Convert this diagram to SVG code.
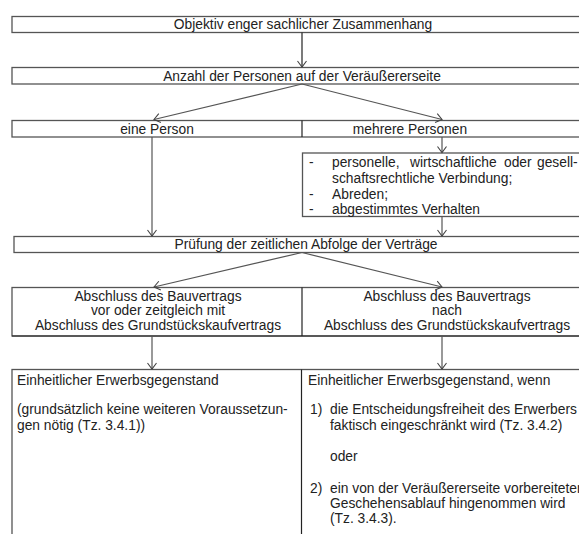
<svg xmlns="http://www.w3.org/2000/svg" width="579" height="534" viewBox="0 0 579 534">
<style>
  .box { fill: #fff; stroke: #555; stroke-width: 1.3; }
  .div { stroke: #222; stroke-width: 1.2; fill: none; }
  .t { font-family: "Liberation Sans", Arial, sans-serif; font-size: 13.8px; fill: #222; }
  .c { text-anchor: middle; }
  .con { stroke: #555; stroke-width: 1.2; fill: none; marker-end: url(#ah); }
</style>
<defs>
  <marker id="ah" viewBox="-8 -6 10 12" markerWidth="10" markerHeight="12" refX="0" refY="0" orient="auto" markerUnits="userSpaceOnUse">
    <path d="M-6,-4.5 L0,0 L-6,4.5" fill="none" stroke="#444" stroke-width="1.1"/>
  </marker>
</defs>
<rect width="579" height="534" fill="#fff"/>

<g id="n1">
  <rect class="box" x="12" y="16.5" width="600" height="16"/>
  <text class="t c" x="303" y="29">Objektiv enger sachlicher Zusammenhang</text>
</g>
<g id="n2">
  <rect class="box" x="12" y="67.5" width="600" height="16.5"/>
  <text class="t c" x="302" y="80.5">Anzahl der Personen auf der Veräußererseite</text>
</g>
<g id="n3">
  <rect class="box" x="12" y="120.5" width="600" height="16.5"/>
  <line class="div" x1="302" y1="120.5" x2="302" y2="137"/>
  <text class="t c" x="157" y="133.5">eine Person</text>
  <text class="t c" x="410" y="133.5">mehrere Personen</text>
</g>
<g id="n4">
  <rect class="box" x="302.5" y="153" width="300" height="63.5"/>
  <text class="t" x="309" y="167">-</text>
  <text class="t" y="167"><tspan x="332">personelle,</tspan><tspan x="410">wirtschaftliche</tspan><tspan x="504">oder</tspan><tspan x="537">gesell-</tspan></text>
  <text class="t" x="332" y="182.5">schaftsrechtliche Verbindung;</text>
  <text class="t" x="309" y="198.5">-</text>
  <text class="t" x="332" y="198.5">Abreden;</text>
  <text class="t" x="309" y="214">-</text>
  <text class="t" x="332" y="214">abgestimmtes Verhalten</text>
</g>
<g id="n5">
  <rect class="box" x="14" y="236.5" width="600" height="16"/>
  <text class="t c" x="306" y="249">Prüfung der zeitlichen Abfolge der Verträge</text>
</g>
<g id="n6">
  <rect class="box" x="12" y="287.5" width="600" height="48.5"/>
  <line class="div" x1="302" y1="287.5" x2="302" y2="336"/>
  <line class="div" x1="12" y1="336" x2="579" y2="336"/>
  <text class="t c" x="158" y="300.5">Abschluss des Bauvertrags</text>
  <text class="t c" x="158" y="315">vor oder zeitgleich mit</text>
  <text class="t c" x="158" y="329.5">Abschluss des Grundstückskaufvertrags</text>
  <text class="t c" x="447" y="300.5">Abschluss des Bauvertrags</text>
  <text class="t c" x="447" y="315">nach</text>
  <text class="t c" x="447" y="329.5">Abschluss des Grundstückskaufvertrags</text>
</g>
<g id="n7">
  <rect class="box" x="12" y="369.5" width="600" height="200"/>
  <line class="div" x1="301.5" y1="369.5" x2="301.5" y2="534"/>
  <text class="t" x="17" y="385">Einheitlicher Erwerbsgegenstand</text>
  <text class="t" x="17" y="414">(grundsätzlich keine weiteren Voraussetzun-</text>
  <text class="t" x="17" y="429.5">gen nötig (Tz. 3.4.1))</text>
  <text class="t" x="308" y="385">Einheitlicher Erwerbsgegenstand, wenn</text>
  <text class="t" x="310" y="414">1)</text>
  <text class="t" x="330" y="414">die Entscheidungsfreiheit des Erwerbers</text>
  <text class="t" x="330" y="429.5">faktisch eingeschränkt wird (Tz. 3.4.2)</text>
  <text class="t" x="330" y="461">oder</text>
  <text class="t" x="310" y="493">2)</text>
  <text class="t" x="330" y="493">ein von der Veräußererseite vorbereiteten</text>
  <text class="t" x="330" y="508">Geschehensablauf hingenommen wird</text>
  <text class="t" x="330" y="523">(Tz. 3.4.3).</text>
</g>

<g id="connectors">
  <line class="con" x1="302" y1="32.5" x2="302" y2="67" style="stroke:#222"/>
  <line class="con" x1="302" y1="84" x2="154" y2="119.5"/>
  <line class="con" x1="302" y1="84" x2="442" y2="119.5"/>
  <line class="con" x1="442" y1="137" x2="442" y2="152.5"/>
  <line class="con" x1="152" y1="137" x2="152" y2="236"/>
  <line class="con" x1="442" y1="216.5" x2="442" y2="236"/>
  <line class="con" x1="302" y1="252.5" x2="154" y2="287"/>
  <line class="con" x1="302" y1="252.5" x2="442" y2="287"/>
  <line class="con" x1="152" y1="336" x2="152" y2="369"/>
  <line class="con" x1="442" y1="336" x2="442" y2="369"/>
</g>
</svg>
